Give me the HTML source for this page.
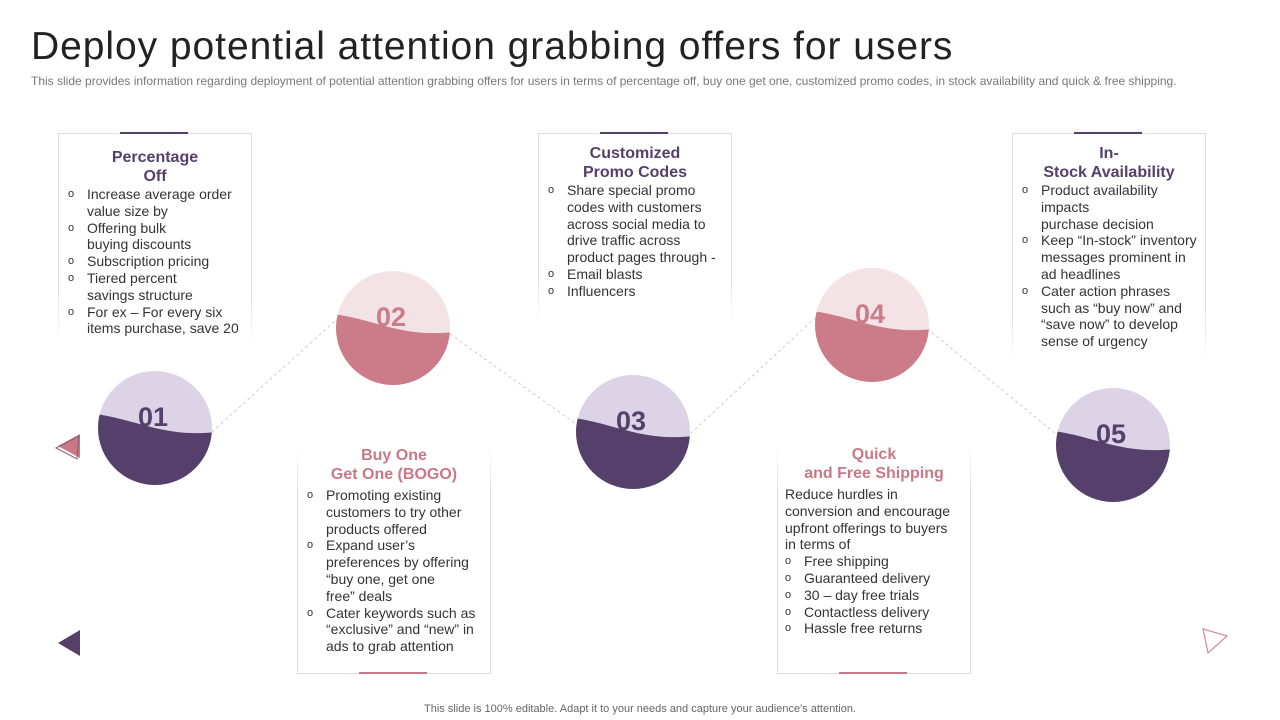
<!DOCTYPE html>
<html><head><meta charset="utf-8"><style>
body{margin:0;width:1280px;height:720px;background:#fff;font-family:"Liberation Sans",sans-serif;position:relative;overflow:hidden}
.abs{position:absolute}
h1{position:absolute;left:31px;top:25px;margin:0;font-weight:normal;font-size:39px;color:#222;letter-spacing:0.95px}
.sub{left:31px;top:74px;font-size:12px;color:#777;white-space:nowrap}
.card{position:absolute;width:194px;box-sizing:border-box}
.top{border-top:1px solid #ddd}
.bot{border-bottom:1px solid #ddd}
.sl,.sr{position:absolute;width:1px;top:0;bottom:0}
.sl{left:0}.sr{right:0}
.top .sl,.top .sr{background:linear-gradient(#ddd 75%,rgba(221,221,221,0))}
.bot .sl,.bot .sr{background:linear-gradient(rgba(221,221,221,0),#ddd 20%)}
.bar{position:absolute;left:62px;width:68px;height:2px}
.t{text-align:center;font-weight:bold;font-size:16px;line-height:19px}
ul{margin:0;padding:0 6px 0 29px;list-style:none;font-size:14px;line-height:16.8px;color:#333}
li{position:relative}
li:before{content:"o";position:absolute;left:-19px;font-size:11px}
p{margin:0 14px 0 8px;font-size:14px;line-height:16.8px;color:#333}
.foot{left:0;width:1280px;text-align:center;top:703px;font-size:11px;color:#666}
</style></head><body>
<h1>Deploy potential attention grabbing offers for users</h1>
<div class="abs sub">This slide provides information regarding deployment of potential attention grabbing offers for users in terms of percentage off, buy one get one, customized promo codes, in stock availability and quick &amp; free shipping.</div>

<svg class="abs" style="left:0;top:0" width="1280" height="720">
<defs>
<clipPath id="c1"><circle cx="155" cy="428" r="57"/></clipPath>
<clipPath id="c2"><circle cx="393" cy="328" r="57"/></clipPath>
<clipPath id="c3"><circle cx="633" cy="432" r="57"/></clipPath>
<clipPath id="c4"><circle cx="872" cy="325" r="57"/></clipPath>
<clipPath id="c5"><circle cx="1113" cy="445" r="57"/></clipPath>
</defs>
<g stroke="#ccc" stroke-dasharray="3,3" fill="none">
<polyline points="212,432 336,320 450,334 576,424 690,434 815,318 929,330 1056,434"/>
</g>
<g id="circles"></g>
<polygon points="58,446 80,434 80,458" fill="#c97885"/>
<polygon points="56,448 79,436 77,459" fill="none" stroke="#8c5c6a" stroke-width="1"/>
<polygon points="58,643 80,630 80,656" fill="#54406a"/>
<polygon points="1203,629 1227,636 1208,653" fill="none" stroke="#d48a98" stroke-width="1.2"/>
</svg>

<div class="card top" style="left:58px;top:133px;height:210px">
<div class="sl"></div><div class="sr"></div>
<div class="bar" style="top:-2px;background:#54406a"></div>
<div class="t" style="color:#54406a;margin-top:14px">Percentage<br>Off</div>
<ul><li>Increase average order value size by</li><li>Offering bulk<br>buying discounts</li><li>Subscription pricing</li><li>Tiered percent<br>savings structure</li><li>For ex – For every six items purchase, save 20</li></ul>
</div>
<div class="card top" style="left:538px;top:133px;height:190px">
<div class="sl"></div><div class="sr"></div>
<div class="bar" style="top:-2px;background:#54406a"></div>
<div class="t" style="color:#54406a;margin-top:10px">Customized<br>Promo Codes</div>
<ul><li>Share special promo codes with customers across social media to drive traffic across product pages through -</li><li>Email blasts</li><li>Influencers</li></ul>
</div>
<div class="card top" style="left:1012px;top:133px;height:230px">
<div class="sl"></div><div class="sr"></div>
<div class="bar" style="top:-2px;background:#54406a"></div>
<div class="t" style="color:#54406a;margin-top:10px">In-<br>Stock Availability</div>
<ul><li>Product availability impacts<br>purchase decision</li><li>Keep “In-stock” inventory messages prominent in ad headlines</li><li>Cater action phrases such as “buy now” and “save now” to develop sense of urgency</li></ul>
</div>
<div class="card bot" style="left:297px;top:446px;height:228px">
<div class="sl"></div><div class="sr"></div>
<div class="bar" style="bottom:-1px;background:#c97885"></div>
<div class="t" style="color:#c97885;margin-top:0px">Buy One<br>Get One (BOGO)</div>
<ul style="margin-top:3px"><li>Promoting existing customers to try other products offered</li><li>Expand user’s preferences by offering<br>“buy one, get one<br>free” deals</li><li>Cater keywords such as “exclusive” and “new” in ads to grab attention</li></ul>
</div>
<div class="card bot" style="left:777px;top:445px;height:229px">
<div class="sl"></div><div class="sr"></div>
<div class="bar" style="bottom:-1px;background:#c97885"></div>
<div class="t" style="color:#c97885;margin-top:0px">Quick<br>and Free Shipping</div>
<p style="margin-top:3px">Reduce hurdles in conversion and encourage upfront offerings to buyers in terms of</p>
<ul style="padding-left:27px"><li>Free shipping</li><li>Guaranteed delivery</li><li>30 – day free trials</li><li>Contactless delivery</li><li>Hassle free returns</li></ul>
</div>
<div class="abs foot">This slide is 100% editable.  Adapt it to your needs and capture your audience's attention.</div>
<script>
const labels=["01","02","03","04","05"];
const cx=[155,393,633,872,1113], cy=[428,328,432,325,445];
const light=["#dcd3e6","#f3e3e6","#dcd3e6","#f3e3e6","#dcd3e6"];
const dark=["#54406a","#cc7b88","#54406a","#cc7b88","#54406a"];
const numc=["#54406a","#cc7b88","#54406a","#cc7b88","#54406a"];
const g=document.getElementById('circles');const ns="http://www.w3.org/2000/svg";
labels.forEach((l,i)=>{
 const x=cx[i],y=cy[i];
 const grp=document.createElementNS(ns,'g');
 
 
 grp.innerHTML=`<circle cx="${x}" cy="${y}" r="57" fill="${light[i]}"/>
 <path clip-path="url(#c${i+1})" d="M${x-60},${y-14} C${x-20},${y-9} ${x+10},${y+10} ${x+60},${y+4} L${x+60},${y+60} L${x-60},${y+60}Z" fill="${dark[i]}"/>
 <text x="${x-2}" y="${y-2}" text-anchor="middle" font-family="Liberation Sans" font-weight="bold" font-size="27" fill="${numc[i]}">${l}</text>`;
 g.appendChild(grp);
});
</script>
</body></html>
